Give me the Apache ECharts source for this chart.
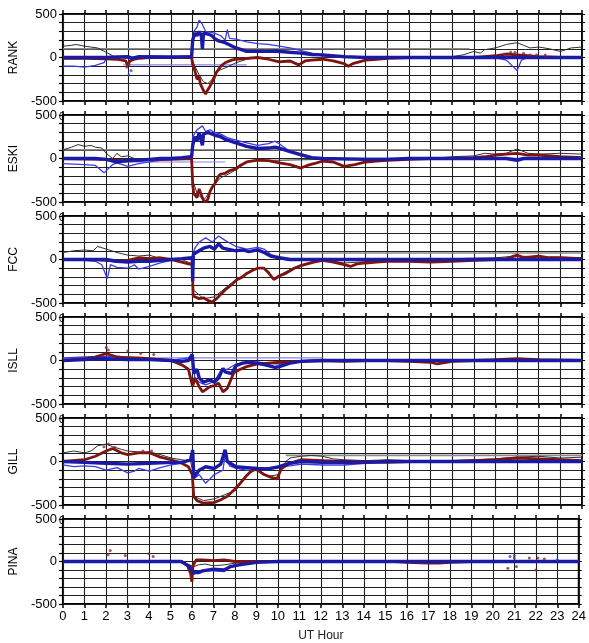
<!DOCTYPE html>
<html>
<head>
<meta charset="utf-8">
<script src="https://cdn.jsdelivr.net/npm/echarts@6/dist/echarts.min.js"></script>
<style>
  html, body { margin: 0; padding: 0; background: #fff; }
  #chart { width: 589px; height: 643px; }
</style>
</head>
<body>
<div id="chart"></div>
<script>
// Station stack plot: magnetometer components (nT) versus UT hour.
const stations = ['RANK', 'ESKI', 'FCC', 'ISLL', 'GILL', 'PINA'];
const yLabels = [-500, 0, 500];
const xName = 'UT Hour';

// ---- RANK ----
const rankRed = [[0,-10],[1,-10],[2,-15],[2.5,-20],[2.9,-40],[3.0,-90],[3.1,-40],[3.3,-20],[3.5,-10],[4,0],[5,0],[5.95,0],[6.0,-80],[6.1,-150],[6.2,-250],[6.3,-220],[6.35,-300],[6.5,-380],[6.6,-420],[6.7,-370],[6.8,-330],[6.9,-280],[7.0,-230],[7.1,-170],[7.3,-100],[7.5,-60],[7.8,-30],[8.0,-20],[8.5,-10],[9.0,0],[9.5,-20],[10.0,-50],[10.5,-40],[10.9,-85],[11.2,-40],[11.5,-30],[12,-20],[12.5,-40],[13.0,-70],[13.2,-100],[13.4,-70],[13.7,-50],[14,-30],[14.5,-20],[15,-10],[16,0],[19,0],[19.5,10],[20,20],[20.5,40],[21,30],[21.5,20],[22,10],[23,0],[24,0]];
const rankBlue = [[0,0],[2,0],[2.5,5],[3,10],[3.2,-10],[3.5,10],[4,5],[5,5],[5.95,10],[6.0,200],[6.1,280],[6.2,250],[6.3,300],[6.4,250],[6.45,100],[6.5,280],[6.7,270],[6.9,250],[7.0,220],[7.2,190],[7.5,170],[8,110],[8.5,70],[9,70],[9.5,70],[9.8,75],[10.5,60],[11,50],[11.5,35],[12,30],[13,10],[14,0],[24,0]];
const rankBlueThin = [[0,-100],[0.5,-100],[1,-110],[1.5,-90],[1.9,-60],[2.0,-10],[2.5,10],[3,0],[3.5,10],[4,20],[5,10],[5.95,20],[6.05,300],[6.2,350],[6.3,430],[6.45,380],[6.6,300],[7.0,280],[7.3,250],[7.5,200],[7.6,320],[7.7,220],[8,210],[8.5,180],[9,160],[9.5,150],[10,130],[10.5,110],[11,80],[11.5,50],[12,20],[13,0],[20,0],[20.5,-30],[21,-150],[21.2,-30],[21.5,0],[24,0]];
const rankBlack = [[0,130],[0.4,140],[0.6,150],[1.0,130],[1.3,120],[1.6,110],[2.0,60],[2.3,20],[2.5,0],[3,-10],[4,0],[5,0],[5.95,0],[6.1,-100],[6.3,-200],[6.5,-280],[6.7,-300],[6.9,-250],[7.0,-200],[7.2,-150],[7.5,-120],[8,-60],[8.5,-20],[9,0],[17,0],[18,10],[18.5,30],[19.0,70],[19.3,50],[19.5,90],[20,110],[20.5,150],[21,170],[21.3,140],[21.6,110],[22,120],[22.5,100],[23,70],[23.5,110],[24,120]];
const rankGrayBase = [[0,100],[18.8,100]];
const rankBlueBase = [[2.8,-85],[8.5,-85]];
const rankDotsRed = [[2.95,-110],[3.05,-80],[20.4,40],[20.7,60],[20.9,60],[21.3,50],[21.6,30],[21.9,30],[22.3,30]];
const rankDotsBlue = [[3.05,-200],[3.15,-150]];

// ---- ESKI ----
const eskiRed = [[0,0],[2,-10],[2.5,-20],[3,-30],[3.5,-20],[4,-10],[5,-10],[5.95,0],[6.0,-300],[6.05,-400],[6.2,-450],[6.3,-350],[6.4,-420],[6.5,-480],[6.6,-500],[6.7,-470],[6.8,-380],[6.9,-330],[7.0,-300],[7.1,-250],[7.2,-200],[7.3,-180],[7.5,-170],[7.7,-140],[8.0,-120],[8.2,-80],[8.5,-40],[9.0,-20],[9.5,-25],[10.0,-50],[10.5,-70],[11.0,-110],[11.3,-80],[11.6,-60],[12,-30],[12.5,-40],[13,-90],[13.5,-70],[14,-40],[14.5,-30],[15,-20],[16,-10],[17,0],[18,0],[19,10],[19.5,20],[20,40],[20.5,50],[21,60],[21.5,40],[22,40],[23,20],[24,10]];
const eskiBlue = [[0,0],[1.5,0],[2,-10],[2.5,-40],[3,-20],[3.5,-20],[4,-10],[4.5,0],[5,0],[5.5,10],[5.95,20],[6.0,150],[6.1,250],[6.2,200],[6.3,300],[6.45,150],[6.5,280],[6.7,300],[7.0,270],[7.3,250],[7.5,220],[8,180],[8.5,140],[9.0,115],[9.5,120],[9.8,130],[10,120],[10.5,80],[11,45],[11.5,10],[12,0],[14,-10],[15,-10],[16,0],[20.5,0],[21,-20],[21.3,0],[24,0]];
const eskiBlueThin = [[0,-60],[1,-70],[1.5,-80],[1.9,-165],[2.3,-70],[2.5,-50],[3,-90],[3.5,-60],[4,-40],[4.5,-20],[5,-10],[5.5,0],[5.95,20],[6.0,250],[6.2,330],[6.45,375],[6.6,310],[6.8,330],[7.0,300],[7.3,280],[7.6,240],[8,210],[8.5,180],[9,150],[9.5,170],[9.8,200],[10,170],[10.5,80],[11,30],[11.5,10],[12,0],[24,0]];
const eskiBlack = [[0,100],[0.4,130],[0.7,160],[1.0,140],[1.3,150],[1.5,130],[1.8,120],[2.0,60],[2.3,0],[2.5,60],[2.7,20],[3,30],[3.3,0],[4,-20],[5,-10],[5.95,0],[6.0,-250],[6.2,-400],[6.5,-480],[6.6,-450],[7.0,-300],[7.3,-220],[7.5,-200],[8,-130],[8.5,-40],[9,-20],[10,-20],[12,-10],[17,0],[18,20],[19,30],[19.5,60],[20,50],[20.5,60],[21,110],[21.5,60],[22,50],[23,60],[24,50]];
const eskiGrayBase = [[0,100],[19,100]];
const eskiBlueBase = [[2.5,-40],[7.5,-40]];

// ---- FCC ----
const fccRed = [[0,0],[1.5,0],[2,-10],[2.5,-20],[3,-10],[3.5,20],[4,10],[4.5,20],[5,0],[5.3,-20],[5.5,-30],[5.8,-50],[5.98,-60],[6.02,-420],[6.1,-440],[6.3,-450],[6.5,-440],[6.7,-470],[6.9,-490],[7.1,-450],[7.3,-400],[7.5,-350],[7.8,-290],[8.0,-240],[8.3,-200],[8.5,-160],[8.8,-120],[9.0,-100],[9.3,-100],[9.5,-150],[9.75,-230],[10.0,-190],[10.3,-160],[10.7,-100],[11.0,-70],[11.3,-50],[11.6,-30],[12,-10],[12.5,-30],[13,-60],[13.3,-80],[13.6,-50],[14,-40],[14.5,-30],[15,-20],[16,-20],[17,-30],[18,-20],[19,-10],[20,0],[20.5,10],[21,50],[21.3,20],[22,40],[22.5,20],[23,20],[24,10]];
const fccBlue = [[0,0],[2,0],[2.5,-20],[3,-30],[3.5,-20],[4,-20],[4.5,-10],[5,0],[5.5,10],[5.98,20],[6.0,-250],[6.03,60],[6.3,100],[6.5,130],[6.8,150],[7.0,120],[7.2,180],[7.4,130],[7.6,120],[8,100],[8.3,110],[8.6,90],[9,110],[9.3,80],[9.6,40],[10,20],[10.5,0],[24,0]];
const fccBlueThin = [[0,0],[1,-10],[1.5,-20],[1.8,-60],[2.05,-220],[2.2,-60],[2.5,-90],[3,-100],[3.3,-60],[3.5,-110],[4,-80],[4.5,-40],[5,-10],[5.5,10],[5.98,30],[6.1,130],[6.3,200],[6.6,250],[6.9,200],[7.2,270],[7.5,220],[8,150],[8.5,120],[9,140],[9.3,120],[9.6,60],[10,10],[10.5,-10],[11,0],[24,0]];
const fccBlack = [[0,80],[0.5,100],[1,110],[1.4,100],[1.6,150],[2.0,120],[2.5,80],[3,50],[3.5,40],[4,50],[4.5,10],[5,0],[5.5,0],[5.98,-50],[6.03,-350],[6.5,-450],[7.0,-430],[7.5,-330],[8.0,-230],[8.5,-160],[9,-100],[9.3,-100],[9.75,-220],[10,-180],[10.7,-90],[11.3,-40],[12,0],[13,-40],[15,-10],[18,10],[20,20],[21,40],[22,30],[24,20]];
const fccGrayBase = [[10,75],[24,75]];

// ---- ISLL ----
const isllRed = [[0,0],[1,20],[1.5,40],[2,80],[2.5,40],[3,30],[3.5,30],[4,20],[4.5,10],[5,0],[5.5,-50],[5.8,-100],[6.0,-300],[6.1,-200],[6.3,-300],[6.45,-360],[6.8,-300],[7.0,-290],[7.2,-260],[7.4,-360],[7.6,-320],[7.9,-140],[8.2,-100],[8.5,-70],[9,-40],[9.5,-30],[10,-20],[11,-10],[12,0],[13,-10],[14,0],[15,0],[16,-10],[17,-20],[17.3,-40],[18,-10],[19,0],[20,10],[21,20],[22,10],[24,0]];
const isllBlue = [[0,0],[1,10],[1.5,20],[2,20],[3,10],[4,10],[5,0],[5.5,-10],[5.8,0],[5.98,70],[6.05,-150],[6.2,-100],[6.3,-200],[6.5,-250],[6.8,-220],[7.0,-250],[7.2,-200],[7.4,-90],[7.5,-130],[7.8,-150],[8.0,-60],[8.3,-30],[8.6,-20],[9,-30],[9.5,-60],[9.8,-80],[10,-70],[10.5,-30],[11,-10],[12,0],[24,0]];
const isllBlueThin = [[0,30],[1,40],[2,50],[3,40],[4,20],[5,0],[5.8,30],[5.98,60],[6.1,-200],[6.3,-250],[6.6,-280],[7.0,-240],[7.3,-120],[7.6,-100],[8,-40],[9,-20],[10,-40],[11,-10],[12,0],[24,0]];
const isllBlueBase = [[0,30],[12,30]];
const isllDotsRed = [[2.0,150],[2.1,120],[3.0,110],[3.6,80],[4.2,70]];

// ---- GILL ----
const gillRed = [[0,0],[1,20],[1.5,60],[2.0,120],[2.3,150],[2.7,100],[3.0,80],[3.5,100],[4.0,100],[4.5,50],[5.0,20],[5.5,-20],[5.8,-60],[5.98,-150],[6.05,-400],[6.2,-450],[6.5,-480],[7.0,-470],[7.3,-440],[7.6,-400],[7.9,-330],[8.2,-250],[8.5,-160],[8.8,-85],[9.0,-100],[9.3,-150],[9.6,-180],[9.9,-200],[10.1,-80],[10.5,-20],[11,20],[12,10],[13,0],[14,0],[15,-10],[16,0],[18,0],[19,10],[20,20],[21,40],[22,30],[23,20],[24,10]];
const gillBlue = [[0,0],[1,-10],[2,-20],[3,-30],[4,-20],[5,-10],[5.5,-10],[5.9,20],[6.0,130],[6.05,-180],[6.3,-100],[6.6,-60],[7.0,-80],[7.3,-30],[7.5,135],[7.6,0],[8.0,-60],[8.5,-70],[9.0,-80],[9.5,-85],[10,-60],[10.5,-20],[11,0],[12,-10],[14,-10],[15,0],[24,0]];
const gillBlueThin = [[0,-40],[0.5,-60],[1,-50],[1.5,-60],[2.0,-100],[2.5,-70],[3.0,-130],[3.3,-110],[3.5,-80],[4,-110],[4.5,-70],[5.0,-40],[5.5,-20],[5.9,10],[6.0,120],[6.05,-200],[6.3,-150],[6.6,-250],[7.0,-150],[7.4,-100],[7.5,80],[7.7,-50],[8,-80],[8.5,-100],[9,-100],[9.5,-70],[10,-60],[10.5,-50],[11,-30],[12,-40],[13,-40],[14,-20],[15,-10],[16,0],[24,0]];
const gillBlack = [[0,100],[0.5,120],[1.0,100],[1.3,120],[1.6,180],[2.0,200],[2.3,170],[2.7,140],[3.0,120],[3.5,110],[4.0,110],[4.5,80],[5.0,40],[5.5,20],[5.9,0],[6.0,-100],[6.05,-400],[6.5,-450],[7.0,-430],[7.5,-380],[8.0,-330],[8.5,-150],[9,-90],[9.5,-170],[10,-150],[10.3,0],[10.5,40],[11,60],[11.5,70],[12,60],[12.5,30],[13,20],[14,10],[15,20],[16,10],[17,0],[18,10],[19,20],[20,30],[21,50],[22,60],[23,40],[24,50]];
const gillGrayBase = [[10.3,70],[24,70]];
const gillDotsRed = [[1.9,170],[2.1,200],[2.4,160],[3.7,120],[4.1,120]];

// ---- PINA ----
const pinaRed = [[0,0],[5.5,0],[5.6,-10],[5.8,-50],[5.95,-150],[6.0,-240],[6.05,-50],[6.2,20],[6.5,20],[7.0,10],[7.5,20],[8,0],[9,0],[15.5,0],[16,-10],[17,-20],[17.5,-20],[18,-10],[19,0],[24,0]];
const pinaBlue = [[0,0],[5.5,0],[5.9,-60],[6.05,-130],[6.3,-130],[6.5,-110],[7.0,-90],[7.5,-100],[7.8,-60],[8.2,-40],[9,-10],[10,0],[24,0]];
const pinaBlueThin = [[0,0],[5.5,0],[5.9,-80],[6.1,-150],[6.3,-110],[7.0,-110],[7.5,-120],[7.7,-80],[8,-40],[9,-10],[10,0],[24,0]];
const pinaBlack = [[5.5,0],[5.9,-40],[6.1,-60],[6.3,-40],[6.6,-30],[7.0,-50],[7.5,-40],[8,-20],[9,0]];
const pinaDotsRed = [[2.1,80],[2.2,130],[2.9,70],[4.0,90],[4.2,60],[20.7,-80],[21.0,40],[21.1,-60],[21.7,40],[22.0,-100],[22.1,40],[22.4,30]];
const pinaDotsBlue = [[20.8,60],[21.0,70],[23.0,20]];

const panels = [
  { red: rankRed, blue: rankBlue, blueThin: rankBlueThin, black: rankBlack, grayBase: rankGrayBase, blueBase: rankBlueBase, dotsRed: rankDotsRed, dotsBlue: rankDotsBlue },
  { red: eskiRed, blue: eskiBlue, blueThin: eskiBlueThin, black: eskiBlack, grayBase: eskiGrayBase, blueBase: eskiBlueBase, dotsRed: [], dotsBlue: [] },
  { red: fccRed, blue: fccBlue, blueThin: fccBlueThin, black: fccBlack, grayBase: fccGrayBase, blueBase: [], dotsRed: [], dotsBlue: [] },
  { red: isllRed, blue: isllBlue, blueThin: isllBlueThin, black: [], grayBase: [], blueBase: isllBlueBase, dotsRed: isllDotsRed, dotsBlue: [] },
  { red: gillRed, blue: gillBlue, blueThin: gillBlueThin, black: gillBlack, grayBase: gillGrayBase, blueBase: [], dotsRed: gillDotsRed, dotsBlue: [] },
  { red: pinaRed, blue: pinaBlue, blueThin: pinaBlueThin, black: pinaBlack, grayBase: [], blueBase: [], dotsRed: pinaDotsRed, dotsBlue: pinaDotsBlue }
];

const FONT = 'Liberation Sans';
const PLOT_LEFT = 62, PLOT_RIGHT = 7, PANEL_TOP = 14, PANEL_STEP = 101, PANEL_H = 87;

const grid = [], xAxis = [], yAxis = [], series = [], graphic = [];

stations.forEach((name, i) => {
  const last = i === stations.length - 1;
  const top = PANEL_TOP + PANEL_STEP * i;
  grid.push({ left: PLOT_LEFT, right: PLOT_RIGHT, top: top, height: PANEL_H, show: true, borderColor: '#000', borderWidth: 2 });

  // bottom hour axis (labels only on the lowest panel)
  xAxis.push({
    type: 'value', gridIndex: i, min: 0, max: 24, interval: 1, position: 'bottom',
    axisLine: { show: false, onZero: false },
    axisTick: { show: true, length: 4, lineStyle: { color: '#000', width: 1.5 } },
    axisLabel: { show: last, fontFamily: FONT, fontSize: 13, color: '#000', margin: 6 },
    splitLine: { show: true, lineStyle: { color: '#202020', width: 1.1 } },
    name: last ? xName : '', nameLocation: 'middle', nameGap: 26,
    nameTextStyle: { fontFamily: FONT, fontSize: 12, color: '#222' }
  });
  // top hour ticks
  xAxis.push({
    type: 'value', gridIndex: i, min: 0, max: 24, interval: 1, position: 'top',
    axisLine: { show: false, onZero: false },
    axisTick: { show: true, length: 4, lineStyle: { color: '#000', width: 1.5 } },
    axisLabel: { show: false }, splitLine: { show: false }
  });
  // left value axis
  yAxis.push({
    type: 'value', gridIndex: i, min: -500, max: 500, interval: 100, position: 'left',
    axisLine: { show: false, onZero: false },
    axisTick: { show: true, length: 4, lineStyle: { color: '#000', width: 1.2 } },
    axisLabel: {
      fontFamily: FONT, fontSize: 13, color: '#000', margin: 6,
      formatter: v => (yLabels.indexOf(v) >= 0 ? String(v) : '')
    },
    splitLine: { show: true, lineStyle: { color: '#202020', width: 1.1 } },
    name: name, nameLocation: 'middle', nameGap: 40, nameRotate: 90,
    nameTextStyle: { fontFamily: FONT, fontSize: 12, color: '#000' }
  });
  // right value ticks
  yAxis.push({
    type: 'value', gridIndex: i, min: -500, max: 500, interval: 100, position: 'right',
    axisLine: { show: false, onZero: false },
    axisTick: { show: true, length: 3, lineStyle: { color: '#000', width: 1 } },
    axisLabel: { show: false }, splitLine: { show: false }
  });

  const p = panels[i];
  const xi = i * 2, yi = i * 2;
  const line = (data, color, width, z) => ({
    type: 'line', xAxisIndex: xi, yAxisIndex: yi, data: data, showSymbol: false,
    symbol: 'none', lineStyle: { color: color, width: width }, z: z, silent: true, animation: false
  });
  series.push(line(p.grayBase, '#8a8a8a', 1.6, 2));
  series.push(line(p.blueBase, '#8585ee', 1.2, 2));
  series.push(line(p.black, '#303030', 1, 3));
  series.push(line(p.blueThin, '#3b3bea', 1.3, 4));
  series.push(line(p.red, '#7e1410', 2.8, 5));
  series.push(line(p.blue, '#1a1aa6', 3.4, 6));
  series.push({ type: 'scatter', xAxisIndex: xi, yAxisIndex: yi, data: p.dotsRed, symbolSize: 3,
    itemStyle: { color: '#8a2a2a' }, z: 7, silent: true, animation: false });
  series.push({ type: 'scatter', xAxisIndex: xi, yAxisIndex: yi, data: p.dotsBlue, symbolSize: 3,
    itemStyle: { color: '#3b3bea' }, z: 7, silent: true, animation: false });

  // small zero mark at the upper-left corner of the lower panels
  if (i > 0) {
    graphic.push({ type: 'text', left: PLOT_LEFT - 3, top: top - 3, z: 100,
      style: { text: '0', font: '10px "Liberation Sans"', fill: '#000' } });
  }
});

const chart = echarts.init(document.getElementById('chart'), null, { renderer: 'canvas' });
chart.setOption({ animation: false, backgroundColor: '#fff', grid, xAxis, yAxis, series, graphic });
</script>
</body>
</html>
